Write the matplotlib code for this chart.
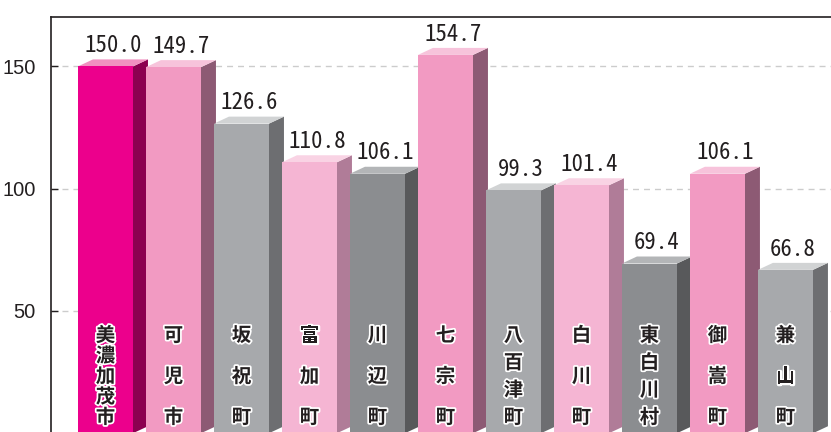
import numpy as np
import matplotlib.pyplot as plt
from matplotlib.patches import Polygon
import matplotlib.patheffects as pe

# data
towns = ["美濃加茂市", "可児市", "坂祝町", "富加町", "川辺町", "七宗町",
         "八百津町", "白川町", "東白川村", "御嵩町", "兼山町"]
values = [150.0, 149.7, 126.6, 110.8, 106.1, 154.7, 99.3, 101.4, 69.4, 106.1, 66.8]
yticks = [50, 100, 150]

# front / side / top colours per style
styles = {
    "magenta": ("#EC008C", "#8C0050", "#F190C0"),
    "pink": ("#F29AC2", "#8D5A74", "#F7C3DB"),
    "lightpink": ("#F5B5D3", "#B07C98", "#F9D3E4"),
    "darkgray": ("#8B8D90", "#58595B", "#B3B5B7"),
    "gray": ("#A7A9AC", "#6D6E71", "#D1D3D4"),
}
bar_style = ["magenta", "pink", "gray", "lightpink", "darkgray", "pink",
             "gray", "lightpink", "darkgray", "pink", "gray"]

fig = plt.figure(figsize=(8.31, 4.32), dpi=100)
ax = fig.add_axes([51 / 831, 0, 1 - 51 / 831, 415 / 432])

w = 0.809   # front width
dx = 0.22   # depth in x
dy = 2.86   # depth in y
x = np.arange(len(values))

fronts = [styles[s][0] for s in bar_style]
ax.bar(x, values, width=w, align="edge", color=fronts, zorder=3, linewidth=0)

for xi, v, s in zip(x, values, bar_style):
    c_front, c_side, c_top = styles[s]
    side = Polygon([(xi + w, 0), (xi + w + dx, dy), (xi + w + dx, v + dy), (xi + w, v)],
                   closed=True, facecolor=c_side, edgecolor="none", zorder=2)
    top = Polygon([(xi, v), (xi + dx, v + dy), (xi + w + dx, v + dy), (xi + w, v)],
                  closed=True, facecolor=c_top, edgecolor="none", zorder=2)
    ax.add_patch(side)
    ax.add_patch(top)
    ax.text(xi + (w + dx) / 2, v + dy + 3.0, f"{v:.1f}", ha="center", va="baseline",
            fontsize=16.5, color="#231F20",
            family=["Noto Sans Mono CJK JP", "DejaVu Sans Mono"], zorder=5)

for xi, name in zip(x, towns):
    ys = np.linspace(39.8, 6.3, len(name))
    for ch, yy in zip(name, ys):
        ax.text(xi + w / 2, yy, ch, ha="center", va="center", fontsize=14,
                fontweight="bold", color="#231F20", family=["Noto Sans CJK JP"],
                zorder=6,
                path_effects=[pe.withStroke(linewidth=2.5, foreground="white")])

ax.set_xlim(-0.397, 11.074)
ax.set_ylim(0.5, 170.2)
ax.set_yticks(yticks)
ax.set_yticklabels([str(t) for t in yticks], family="Liberation Sans", fontsize=14.5,
                   color="#231F20")
ax.tick_params(axis="y", direction="in", length=5, width=1, pad=11, colors="#231F20")
ax.set_xticks([])
ax.yaxis.grid(True, color="#CCCCCC", linewidth=1, linestyle=(0, (4.3, 3.6)), zorder=0)
ax.set_axisbelow(True)
for side_name in ["right", "bottom"]:
    ax.spines[side_name].set_visible(False)
for side_name in ["left", "top"]:
    ax.spines[side_name].set_color("#231F20")
    ax.spines[side_name].set_linewidth(1.2)

fig.savefig("out.png", dpi=100)
